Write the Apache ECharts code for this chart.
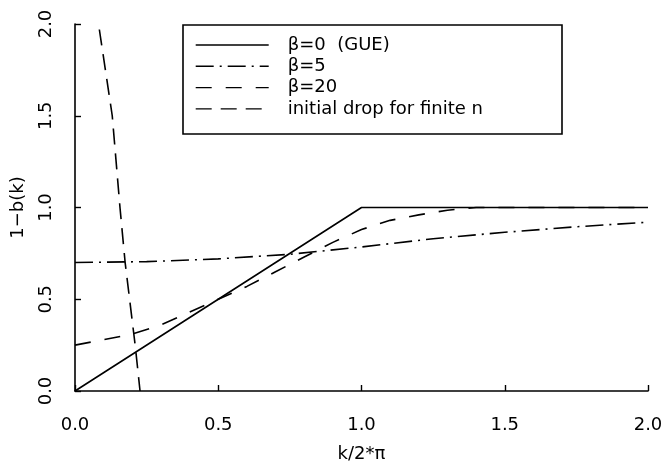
<!DOCTYPE html>
<html>
<head>
<meta charset="utf-8">
<script src="https://cdn.jsdelivr.net/npm/echarts@6/dist/echarts.min.js"></script>
<style>
  html, body { margin: 0; padding: 0; background: #fff; }
  #chart { width: 661px; height: 463px; }
</style>
</head>
<body>
<div id="chart"></div>
<script>
// values
var seriesNames = ['\u03b2=0  (GUE)', '\u03b2=5', '\u03b2=20', 'initial drop for finite n'];

var gueX = [0, 1, 2];
var gueY = [0, 1, 1];

var beta5X = [0, 0.25, 0.5, 0.75, 1.0, 1.25, 1.5, 1.75, 2.0];
var beta5Y = [0.70, 0.705, 0.72, 0.745, 0.785, 0.83, 0.865, 0.895, 0.92];

var beta20X = [0, 0.1, 0.2, 0.3, 0.4, 0.5, 0.6, 0.7, 0.8, 0.9, 1.0, 1.1, 1.2, 1.3, 1.4, 2.0];
var beta20Y = [0.25, 0.28, 0.31, 0.36, 0.43, 0.50, 0.57, 0.65, 0.73, 0.81, 0.88, 0.93, 0.96, 0.985, 1.0, 1.0];

var dropX = [0.085, 0.13, 0.157, 0.175, 0.21, 0.227];
var dropY = [1.97, 1.5, 1.0, 0.7, 0.25, 0];

var xTicks = [0, 0.5, 1.0, 1.5, 2.0];
var yTicks = [0, 0.5, 1.0, 1.5, 2.0];

function pairs (xs, ys) {
	return xs.map(function (x, i) { return [x, ys[i]]; });
}

var font = 'DejaVu Sans';

function lineSeries (name, xs, ys, dash) {
	return {
		name: name,
		type: 'line',
		data: pairs(xs, ys),
		symbol: 'none',
		animation: false,
		lineStyle: { color: '#000', width: 1.6, type: dash },
		itemStyle: { color: '#000' }
	};
}

var axisCommon = {
	type: 'value',
	min: 0,
	max: 2,
	interval: 0.5,
	splitLine: { show: false },
	axisLine: { show: true, lineStyle: { color: '#000', width: 1.6 } },
	axisTick: { show: true, inside: true, length: 6, lineStyle: { color: '#000', width: 1.4 } },
	nameLocation: 'middle',
	nameTextStyle: { color: '#000', fontFamily: font, fontSize: 18 }
};

var chart = echarts.init(document.getElementById('chart'), null, { renderer: 'canvas' });

chart.setOption({
	backgroundColor: '#fff',
	animation: false,
	grid: { left: 75, right: 13, top: 24, bottom: 72, outerBoundsMode: 'none' },
	xAxis: Object.assign({}, axisCommon, {
		name: 'k/2*\u03c0',
		nameGap: 54,
		axisLabel: {
			color: '#000', fontFamily: font, fontSize: 18, margin: 25,
			formatter: function (v) { return v.toFixed(1); },
			customValues: xTicks
		}
	}),
	yAxis: Object.assign({}, axisCommon, {
		name: '1\u2212b(k)',
		nameGap: 48,
		nameRotate: 90,
		axisLabel: {
			color: '#000', fontFamily: font, fontSize: 18, margin: 20, rotate: 90,
			formatter: function (v) { return v.toFixed(1); },
			customValues: yTicks
		}
	}),
	legend: {
		orient: 'vertical',
		left: 195,
		top: 35,
		itemWidth: 73,
		itemHeight: 14,
		itemGap: 1.3,
		padding: 0,
		data: seriesNames,
		itemStyle: { color: 'rgba(0,0,0,0)', borderWidth: 0 },
		lineStyle: { width: 1.4 },
		textStyle: { color: '#000', fontFamily: font, fontSize: 18, lineHeight: 20, padding: [0, 0, 0, 14] }
	},
	graphic: [{
		type: 'rect',
		shape: { x: 183, y: 25, width: 379, height: 109 },
		style: { fill: 'none', stroke: '#000', lineWidth: 1.6 },
		z: 100
	}],
	series: [
		lineSeries(seriesNames[0], gueX, gueY, 'solid'),
		lineSeries(seriesNames[1], beta5X, beta5Y, [18, 6, 2, 6]),
		lineSeries(seriesNames[2], beta20X, beta20Y, [16, 14]),
		lineSeries(seriesNames[3], dropX, dropY, [16, 9])
	]
});
</script>
</body>
</html>
